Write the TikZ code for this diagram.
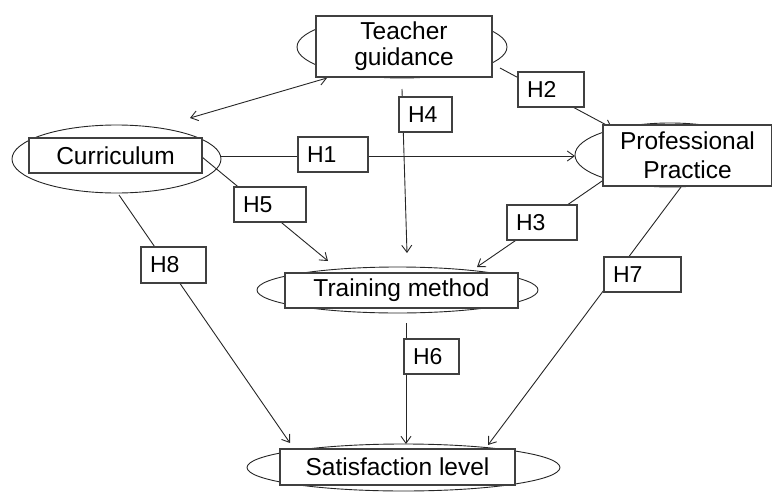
\documentclass[tikz,border=0pt]{standalone}
\usepackage{fontspec}
\setmainfont{Liberation Sans}
\usetikzlibrary{arrows.meta,shapes.geometric}
\begin{document}
\begin{tikzpicture}[x=1pt,y=-1pt,
  oval/.style={draw=black!85, line width=0.9pt, ellipse, inner sep=0pt},
  box/.style={draw=black!75, line width=1.2pt, fill=white, inner sep=0pt, align=center, font=\fontsize{24.5}{26}\selectfont},
  hbox/.style={draw=black!75, line width=1.1pt, fill=white, inner xsep=9pt, inner ysep=0pt, minimum height=35pt, align=left, font=\fontsize{23}{24}\selectfont},
  conn/.style={draw=black!85, line width=0.9pt},
  arr/.style={conn, -{Straight Barb[length=7pt,width=10pt]}},
  darr/.style={conn, {Straight Barb[length=7pt,width=10pt]}-{Straight Barb[length=7pt,width=10pt]}},
]
\useasboundingbox (0,0) rectangle (772,493);
% ellipses behind the boxes
\node[oval, minimum width=210pt, minimum height=62pt] (tgE) at (402,47) {};
\node[oval, minimum width=209pt, minimum height=68pt] (cuE) at (116.5,159) {};
\node[oval, minimum width=190pt, minimum height=64pt] (ppE) at (670,155) {};
\node[oval, minimum width=281pt, minimum height=46pt] (tmE) at (397.5,290) {};
\node[oval, minimum width=313pt, minimum height=47pt] (slE) at (403.5,467.5) {};
% connector end points
\coordinate (a1) at (190,118);  \coordinate (a2) at (327,78);
\coordinate (p1s) at (221,156); \coordinate (p1e) at (575,156);
\coordinate (p2s) at (500,68);  \coordinate (p2e) at (612,128);
\coordinate (p3s) at (605,179); \coordinate (p3e) at (477,267);
\coordinate (p4s) at (402,89);  \coordinate (p4e) at (407,253);
\coordinate (p5s) at (202,157); \coordinate (p5e) at (328,261);
\coordinate (p6s) at (406,323); \coordinate (p6e) at (406,444);
\coordinate (p7s) at (681,187); \coordinate (p7e) at (488,445);
\coordinate (p8s) at (119,195); \coordinate (p8e) at (290,443);
% connectors
\draw[darr] (a1) -- (a2);
\draw[arr] (p1s) -- (p1e);
\draw[arr] (p2s) -- (p2e);
\draw[arr] (p3s) -- (p3e);
\draw[arr] (p4s) -- (p4e);
\draw[arr] (p5s) -- (p5e);
\draw[arr] (p6s) -- (p6e);
\draw[arr] (p7s) -- (p7e);
\draw[arr] (p8s) -- (p8e);
% construct boxes
\node[box, minimum width=176pt, minimum height=61pt] (tg) at (404,46.5) {Teacher\\guidance};
\node[box, minimum width=173pt, minimum height=35pt] (cu) at (115.5,155.5) {Curriculum};
\node[box, minimum width=169pt, minimum height=61pt, font=\fontsize{24.5}{29}\selectfont] (pp) at (687.5,155.5) {Professional\\Practice};
\node[box, minimum width=233pt, minimum height=35pt] (tm) at (401.5,290.5) {Training method};
\node[box, minimum width=235pt, minimum height=36pt] (sl) at (397.5,467) {Satisfaction level};
% hypothesis labels
\node[hbox, text width=52pt] (h1) at (333,154.5) {H1};
\node[hbox, text width=48pt] (h2) at (551,89.5) {H2};
\node[hbox, text width=52pt] (h3) at (542,222.5) {H3};
\node[hbox, text width=35pt] (h4) at (425.5,114.5) {H4};
\node[hbox, text width=54pt] (h5) at (270,204.5) {H5};
\node[hbox, text width=37pt] (h6) at (431.5,356.5) {H6};
\node[hbox, text width=59pt] (h7) at (642.5,274.5) {H7};
\node[hbox, text width=47pt, minimum height=36pt] (h8) at (173.5,265) {H8};
\end{tikzpicture}
\end{document}
